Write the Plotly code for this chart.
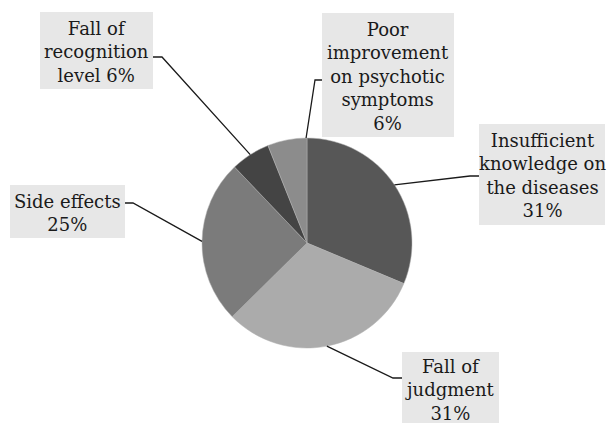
import math
import plotly.graph_objects as go

# ---- data ----
categories = [
    "Insufficient knowledge on the diseases",
    "Fall of judgment",
    "Side effects",
    "Fall of recognition level",
    "Poor improvement on psychotic symptoms",
]
values = [31, 31, 25, 6, 6]
label_texts = [
    "Insufficient<br>knowledge on<br>the diseases<br>31%",
    "Fall of<br>judgment<br>31%",
    "Side effects<br>25%",
    "Fall of<br>recognition<br>level 6%",
    "Poor<br>improvement<br>on psychotic<br>symptoms<br>6%",
]
colors = ["#575757", "#ababab", "#7b7b7b", "#444444", "#8c8c8c"]

# ---- layout (pixels) ----
W, H = 609, 423
cx, cy, R = 307, 243, 105

def px(x):
    return x / W

def py(y):
    return 1 - y / H

# label boxes: (x0, y0, x1, y1)
boxes = [
    (479, 124, 605, 225),
    (402, 352, 499, 423),
    (10, 185, 125, 238),
    (40, 12, 153, 89),
    (322, 13, 454, 137),
]
# text block centres
text_centres = [
    (542, 176),
    (450, 390),
    (67, 213),
    (96, 52),
    (388, 76),
]
# elbow points for leader lines (elbow, box attachment)
elbows = [
    ((470, 176), (479, 176)),
    ((393, 378), (402, 378)),
    ((133, 203), (125, 203)),
    ((162, 57), (153, 57)),
    ((315, 80), (322, 80)),
]

fig = go.Figure()
fig.add_trace(go.Pie(
    labels=categories,
    values=values,
    sort=False,
    direction="clockwise",
    rotation=0,
    marker=dict(colors=colors, line=dict(color="#b0b0b0", width=0.5)),
    textinfo="none",
    hoverinfo="label+percent",
    showlegend=False,
    domain=dict(x=[px(cx - R), px(cx + R)], y=[py(cy + R), py(cy - R)]),
))

total = sum(values)
cum = 0
shapes = []
annotations = []
for i, v in enumerate(values):
    mid = (cum + v / 2) / total * 360
    cum += v
    if i == 4:
        mid = 359.5
    a = math.radians(mid)
    ex = cx + R * math.sin(a)
    ey = cy - R * math.cos(a)
    (bx, by), (ax, ay) = elbows[i]
    path = f"M {px(ex)},{py(ey)} L {px(bx)},{py(by)} L {px(ax)},{py(ay)}"
    shapes.append(dict(type="path", xref="paper", yref="paper", path=path,
                       line=dict(color="#1a1a1a", width=1.3)))
    x0, y0, x1, y1 = boxes[i]
    shapes.append(dict(type="rect", xref="paper", yref="paper",
                       x0=px(x0), x1=px(x1), y0=py(y1), y1=py(y0),
                       fillcolor="#e7e7e7", line=dict(width=0), layer="above"))
    tx, ty = text_centres[i]
    annotations.append(dict(
        x=px(tx), y=py(ty), xref="paper", yref="paper",
        xanchor="center", yanchor="middle", showarrow=False,
        text=label_texts[i], align="center",
        font=dict(family="DejaVu Serif", size=18, color="#1a1a1a"),
    ))

fig.update_layout(
    width=W, height=H,
    margin=dict(l=0, r=0, t=0, b=0),
    paper_bgcolor="white", plot_bgcolor="white",
    shapes=shapes, annotations=annotations,
)
fig.write_html("out.html")
